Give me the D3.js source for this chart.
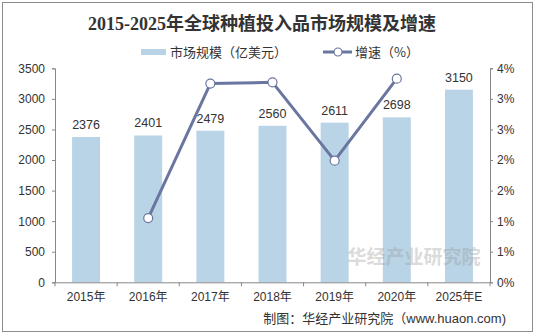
<!DOCTYPE html>
<html><head><meta charset="utf-8">
<script src="https://cdn.jsdelivr.net/npm/d3@7"></script>
<style>
html,body{margin:0;padding:0;background:#fff;}
svg{display:block;}
text{font-family:"Liberation Sans","Noto Sans CJK SC",sans-serif;}
</style></head>
<body>
<svg id="c" width="535" height="335"></svg>
<script>
const categories = ["2015年","2016年","2017年","2018年","2019年","2020年","2025年E"];
const marketSize = [2376,2401,2479,2560,2611,2698,3150];
const growthRate = [null,1.05,3.25,3.27,1.99,3.33,null];
const leftTicks = [0,500,1000,1500,2000,2500,3000,3500];
const rightTicks = [0,0.5,1,1.5,2,2.5,3,3.5];
const titleText = "2015-2025年全球种植投入品市场规模及增速";
const legendBar = "市场规模（亿美元）";
const legendLine = "增速（%）";
const sourceText = "制图：华经产业研究院（www.huaon.com)";
const watermarkText = "华经产业研究院";

const barColor = "#b8d4e6", lineColor = "#6b76a0", axisColor = "#888", textColor = "#333";
const svg = d3.select("#c");
const L = 55, R = 490, T = 68.3, B = 282.3;

svg.append("rect").attr("x",2.5).attr("y",2.5).attr("width",530).attr("height",329)
  .attr("fill","none").attr("stroke","#8c8c8c").attr("stroke-width",1);

const x = d3.scaleBand().domain(categories).range([L,R]).paddingInner(0.55).paddingOuter(0.275);
const xb = d3.scaleBand().domain(categories).range([L,R]);
const yL = d3.scaleLinear().domain([0,3500]).range([B,T]);
const yR = d3.scaleLinear().domain([0,3.5]).range([B,T]);

// bars
svg.append("g").selectAll("rect").data(marketSize).join("rect")
  .attr("x",(d,i)=>x(categories[i])).attr("width",x.bandwidth())
  .attr("y",d=>yL(d)).attr("height",d=>B-yL(d)).attr("fill",barColor);

// watermark (semi-transparent, over bars)
svg.append("text").attr("x",414).attr("y",264).attr("text-anchor","middle")
  .attr("font-size",19).attr("font-weight","bold").attr("fill","#999").attr("opacity",0.35)
  .style("font-family","Noto Sans CJK SC").text(watermarkText);

// bar labels
svg.append("g").selectAll("text").data(marketSize).join("text")
  .attr("x",(d,i)=>x(categories[i])+x.bandwidth()/2).attr("y",d=>yL(d)-8)
  .attr("text-anchor","middle").attr("font-size",12.5).attr("fill",textColor).text(d=>d);

// axes
const axL = svg.append("g").attr("transform",`translate(${L},0)`)
  .call(d3.axisLeft(yL).tickValues(leftTicks).tickSize(3).tickPadding(7).tickFormat(d3.format("d")));
const axR = svg.append("g").attr("transform",`translate(${R},0)`)
  .call(d3.axisRight(yR).tickValues(rightTicks).tickSize(3).tickPadding(4).tickFormat(d=>Math.round(d+1e-9)+"%"));
const axB = svg.append("g").attr("transform",`translate(0,${B})`)
  .call(d3.axisBottom(xb).tickSize(0).tickPadding(10));
svg.append("g").selectAll("line").data(d3.range(categories.length+1)).join("line")
  .attr("x1",i=>L+i*xb.step()).attr("x2",i=>L+i*xb.step())
  .attr("y1",B).attr("y2",B+4).attr("stroke",axisColor);
[axL,axR,axB].forEach(a=>{
  a.selectAll("path,line").attr("stroke",axisColor);
  a.selectAll("text").attr("fill",textColor).attr("font-size",12)
    .style("font-family",'"Liberation Sans","Noto Sans CJK SC",sans-serif');
});
axB.select(".domain").attr("d",`M${L},0.5H${R}`);

// line
const pts = growthRate.map((v,i)=>({v,c:categories[i]})).filter(d=>d.v!=null);
const lineGen = d3.line().x(d=>xb(d.c)+xb.bandwidth()/2).y(d=>yR(d.v));
svg.append("path").datum(pts).attr("d",lineGen).attr("fill","none")
  .attr("stroke",lineColor).attr("stroke-width",3).attr("stroke-linejoin","round");
svg.append("g").selectAll("circle").data(pts).join("circle")
  .attr("cx",d=>xb(d.c)+xb.bandwidth()/2).attr("cy",d=>yR(d.v)).attr("r",4.5)
  .attr("fill","#fff").attr("stroke",lineColor).attr("stroke-width",1.2);

// title
svg.append("text").attr("x",262).attr("y",30).attr("text-anchor","middle")
  .attr("font-size",18).attr("font-weight","bold").attr("fill","#333")
  .style("font-family",'"Liberation Serif","Noto Sans CJK SC",serif').text(titleText);

// legend
svg.append("rect").attr("x",141).attr("y",49).attr("width",25).attr("height",6).attr("fill",barColor);
svg.append("text").attr("x",170).attr("y",57).attr("font-size",13).attr("fill",textColor)
  .style("font-family","Noto Sans CJK SC").text(legendBar);
svg.append("line").attr("x1",323).attr("x2",352).attr("y1",52).attr("y2",52)
  .attr("stroke",lineColor).attr("stroke-width",3);
svg.append("circle").attr("cx",338).attr("cy",52).attr("r",4).attr("fill","#fff")
  .attr("stroke",lineColor).attr("stroke-width",1.2);
svg.append("text").attr("x",355).attr("y",57).attr("font-size",13).attr("fill",textColor)
  .style("font-family","Noto Sans CJK SC").text(legendLine);

// source
svg.append("text").attr("x",506).attr("y",323).attr("text-anchor","end")
  .attr("font-size",13).attr("fill",textColor).text(sourceText);
</script>
</body></html>
